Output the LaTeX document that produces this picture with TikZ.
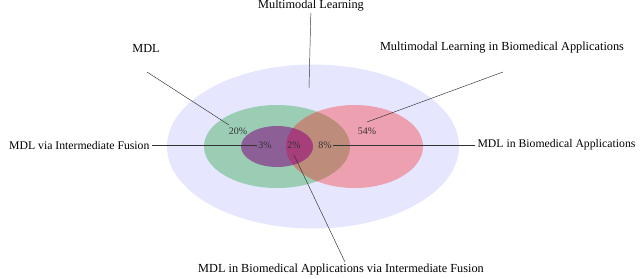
\documentclass[tikz,border=0pt]{standalone}
\usepackage{fontspec}
\setmainfont{Liberation Serif}
\usepackage{xcolor}
\definecolor{outer}{RGB}{230,230,255}
\definecolor{mdl}{RGB}{155,205,180}
\definecolor{bio}{RGB}{236,160,176}
\definecolor{mdlbio}{RGB}{190,140,122}
\definecolor{fusion}{RGB}{140,95,150}
\definecolor{fusionbio}{RGB}{166,62,124}
\usepackage{tikz}
\usetikzlibrary{positioning, calc}

\begin{document}
\begin{tikzpicture}[
        x=0.03cm, y=-0.03cm,
        label/.style={inner sep=1pt, font=\fontsize{10.5}{12}\selectfont},
        sidelabel/.style={inner sep=2pt, font=\fontsize{10}{12}\selectfont},
        pct/.style={inner sep=1pt, font=\fontsize{8.5}{10}\selectfont, text=black!80},
        leader/.style={thin, color=black!80}
    ]
        \useasboundingbox (0,0) rectangle (640,278);

        % sets
        \fill[outer] (313,146.5) ellipse [x radius=146, y radius=82];
        \fill[mdl] (277,146.5) ellipse [x radius=73, y radius=41.5];
        \fill[bio] (354.5,146.5) ellipse [x radius=68.5, y radius=41.5];
        \begin{scope}
            \clip (277,146.5) ellipse [x radius=73, y radius=41.5];
            \fill[mdlbio] (354.5,146.5) ellipse [x radius=68.5, y radius=41.5];
        \end{scope}
        \fill[fusion] (277,146.5) ellipse [x radius=36, y radius=20.5];
        \begin{scope}
            \clip (354.5,146.5) ellipse [x radius=68.5, y radius=41.5];
            \fill[fusionbio] (277,146.5) ellipse [x radius=36, y radius=20.5];
        \end{scope}

        % percentages
        \node[pct] (p20) at (238,131) {20\%};
        \node[pct] (p54) at (367,131) {54\%};
        \node[pct] (p3) at (265,145) {3\%};
        \node[pct] (p2) at (294,145) {2\%};
        \node[pct] (p8) at (325,145) {8\%};

        % labels
        \node[label] (ml) at (311,6) {Multimodal Learning};
        \node[label] (mdltxt) at (146,48) {MDL};
        \node[label] (mlbio) at (502,48) {Multimodal Learning in Biomedical Applications};
        \node[sidelabel, anchor=east] (viafusion) at (152,145) {MDL via Intermediate Fusion};
        \node[sidelabel, anchor=west] (mdlbiotxt) at (475,145) {MDL in Biomedical Applications};
        \node[label] (all) at (341,270) {MDL in Biomedical Applications via Intermediate Fusion};

        \coordinate (ml-end) at (309,88);
        \coordinate (mdl-a) at (147,72);
        \coordinate (mdl-b) at (229,125);
        \coordinate (mlbio-a) at (503,72);
        \coordinate (mlbio-b) at (367,122);
        \coordinate (all-a) at (345,262);
        \coordinate (all-b) at (294,155);

        \draw[leader] (ml) -- (ml-end);
        \draw[leader] (mdl-a) -- (mdl-b);
        \draw[leader] (mlbio-a) -- (mlbio-b);
        \draw[leader] (viafusion) -- (p3);
        \draw[leader] (mdlbiotxt) -- (p8);
        \draw[leader] (all-a) -- (all-b);
    \end{tikzpicture}
\end{document}
